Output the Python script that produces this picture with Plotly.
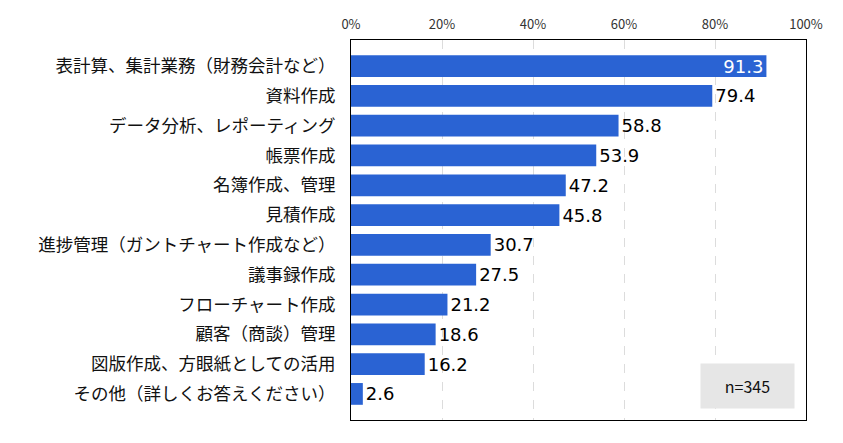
import plotly.graph_objects as go

categories = [
    "表計算、集計業務（財務会計など）",
    "資料作成",
    "データ分析、レポーティング",
    "帳票作成",
    "名簿作成、管理",
    "見積作成",
    "進捗管理（ガントチャート作成など）",
    "議事録作成",
    "フローチャート作成",
    "顧客（商談）管理",
    "図版作成、方眼紙としての活用",
    "その他（詳しくお答えください）",
]
values = [91.3, 79.4, 58.8, 53.9, 47.2, 45.8, 30.7, 27.5, 21.2, 18.6, 16.2, 2.6]
tick_vals = [0, 20, 40, 60, 80, 100]
tick_labels = ["0%", "20%", "40%", "60%", "80%", "100%"]
sample_note = "n=345"

text_pos = ["inside" if v > 85 else "outside" for v in values]

fig = go.Figure(go.Bar(
    x=values,
    y=categories,
    orientation="h",
    marker=dict(color="#2a63d3", line=dict(width=0)),
    texttemplate="%{x:.1f}",
    textposition=text_pos,
    insidetextanchor="end",
    insidetextfont=dict(family="DejaVu Sans", size=18, color="white"),
    outsidetextfont=dict(family="DejaVu Sans", size=18, color="black"),
    cliponaxis=False,
    width=0.73,
))

fig.update_layout(
    width=835, height=435,
    margin=dict(l=343, r=37, t=32, b=23, autoexpand=False),
    paper_bgcolor="white",
    plot_bgcolor="white",
    showlegend=False,
    uniformtext=dict(minsize=18, mode="show"),
    font=dict(family="Noto Sans CJK JP", color="#222"),
    xaxis=dict(
        side="top",
        range=[0, 100],
        automargin=False,
        tickmode="array",
        tickvals=tick_vals,
        ticktext=tick_labels,
        tickfont=dict(size=13, color="#333", family="Noto Sans CJK JP"),
        showgrid=True, gridcolor="#dcdcdc", griddash="dash", gridwidth=1,
        showline=True, linecolor="black", linewidth=1, mirror=True,
        zeroline=False, ticks="", ticklabelstandoff=5,
    ),
    yaxis=dict(
        range=[11.875, -0.875],
        automargin=False,
        tickfont=dict(size=17.5, color="#111", family="Noto Sans CJK JP"),
        showline=True, linecolor="black", linewidth=1, mirror=True,
        ticks="", ticklabelstandoff=11,
    ),
    annotations=[dict(
        text=sample_note, xref="x", yref="paper", x=87.1, y=0.09,
        xanchor="center", yanchor="middle",
        showarrow=False, width=91, height=42, bgcolor="#e6e6e6",
        font=dict(size=16, color="#111", family="Noto Sans CJK JP"),
    )],
)

fig.write_html("out.html")
